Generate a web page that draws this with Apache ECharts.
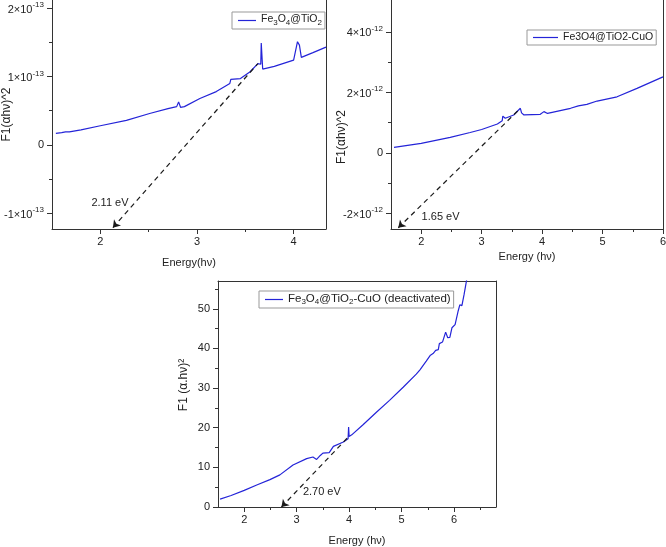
<!DOCTYPE html>
<html><head><meta charset="utf-8">
<script src="https://cdn.jsdelivr.net/npm/echarts@6/dist/echarts.min.js"></script>
<style>html,body{margin:0;padding:0;background:#fff}#c{width:666px;height:547px}</style>
</head><body><div id="c"></div>
<script>
// ---------- Panel 1: Fe3O4@TiO2 (values in units of 1e-13) ----------
const p1Name = 'Fe3O4@TiO2';
const p1Energy = [1.54,1.60,1.64,1.66,1.68,1.80,2.00,2.27,2.51,2.70,2.79,2.81,2.83,2.85,2.87,3.03,3.20,3.34,3.35,3.45,3.55,3.63,3.66,3.665,3.68,3.80,4.00,4.02,4.04,4.06,4.08,4.20,4.335];
const p1Value  = [0.17,0.18,0.19,0.17,0.19,0.22,0.28,0.36,0.46,0.53,0.56,0.63,0.55,0.53,0.56,0.68,0.78,0.90,0.96,0.97,1.07,1.19,1.18,1.49,1.11,1.15,1.24,1.25,1.51,1.46,1.28,1.35,1.43];
const p1XRange = [1.5, 4.335];
const p1YRange = [-1.23, 2.12];
const p1XTicks = [2, 3, 4];
const p1XMinor = [2.5, 3.5];
const p1YTicks = [-1, 0, 1, 2];
const p1YMinor = [-0.5, 0.5, 1.5];
const p1Tangent = [[2.13, -1.21], [3.63, 1.19]];
const p1Gap = {text: '2.11 eV', at: [2.10, -0.85]};

// ---------- Panel 2: Fe3O4@TiO2-CuO (values in units of 1e-12) ----------
const p2Name = 'Fe3O4@TiO2-CuO';
const p2Energy = [1.55,2.00,2.48,2.81,3.00,3.26,3.34,3.35,3.39,3.53,3.64,3.66,3.70,3.97,4.03,4.09,4.47,4.60,4.74,4.75,4.77,4.91,5.24,5.57,6.00];
const p2Value  = [0.18,0.31,0.51,0.67,0.77,0.95,1.06,1.21,1.14,1.25,1.47,1.32,1.25,1.27,1.36,1.30,1.47,1.55,1.60,1.64,1.60,1.71,1.85,2.13,2.51];
const p2XRange = [1.5, 6];
const p2YRange = [-2.52, 5.05];
const p2XTicks = [2, 3, 4, 5, 6];
const p2XMinor = [2.5, 3.5, 4.5, 5.5];
const p2YTicks = [-2, 0, 2, 4];
const p2YMinor = [-1, 1, 3];
const p2Tangent = [[1.62, -2.48], [3.61, 1.41]];
const p2Gap = {text: '1.65 eV', at: [2.32, -2.13]};

// ---------- Panel 3: Fe3O4@TiO2-CuO (deactivated) ----------
const p3Name = 'Fe3O4@TiO2-CuO (deactivated)';
const p3Energy = [1.54,1.75,2.00,2.25,2.49,2.68,2.93,3.19,3.31,3.38,3.45,3.50,3.62,3.65,3.70,3.89,3.98,3.99,4.00,4.05,4.27,4.52,4.77,5.03,5.28,5.35,5.47,5.55,5.60,5.65,5.70,5.72,5.78,5.84,5.88,5.92,5.96,6.02,6.08,6.11,6.15,6.19,6.25];
const p3Value  = [2.0,2.9,4.2,5.6,6.9,8.1,10.6,12.2,12.6,12.0,13.0,13.6,13.7,13.9,15.3,16.4,17.2,20.2,17.8,18.2,20.8,23.9,26.9,30.2,33.5,34.6,36.8,38.3,38.7,39.5,39.7,41.2,41.6,44.1,42.7,42.8,45.2,46.0,49.5,51.0,50.8,53.5,58.0];
const p3XRange = [1.5, 6.8];
const p3YRange = [0, 57];
const p3XTicks = [2, 3, 4, 5, 6];
const p3XMinor = [2.5, 3.5, 4.5, 5.5, 6.5];
const p3YTicks = [0, 10, 20, 30, 40, 50];
const p3YMinor = [5, 15, 25, 35, 45, 55];
const p3Tangent = [[2.71, 0], [3.98, 17.6]];
const p3Gap = {text: '2.70 eV', at: [3.48, 3.8]};

// ---------- styling ----------
const FONT = 'Liberation Sans, Arial, sans-serif';
const LINE = '#2424d8';
const AX = '#333';
const TXT = '#222';

const zip = (a, b) => a.map((v, i) => [v, b[i]]);
const supRich = {
  b: {fontSize: 11, fontFamily: FONT, color: TXT, lineHeight: 14, verticalAlign: 'bottom'},
  s: {fontSize: 8, fontFamily: FONT, color: TXT, lineHeight: 6, verticalAlign: 'top'}
};
const subRich = fs => ({
  n: {fontSize: fs, fontFamily: FONT, color: TXT, lineHeight: 13, verticalAlign: 'top'},
  s: {fontSize: 8, fontFamily: FONT, color: TXT, lineHeight: 8, verticalAlign: 'bottom'}
});
const subFmt = name => name.replace(/([A-Za-z@ ()\-]+)|(\d+)/g, (m, t, d) => t ? '{n|' + t + '}' : '{s|' + d + '}');
const sciFmt = exp => v => v === 0 ? '0' : '{b|' + v + '×10}{s|-' + exp + '}';

function mainX(grid, range, ticks, name, gap) {
  return {type: 'value', gridIndex: grid, min: range[0], max: range[1], position: 'bottom',
    name: name, nameLocation: 'middle', nameGap: gap, nameMoveOverlap: false,
    nameTextStyle: {fontFamily: FONT, fontSize: 11, color: TXT},
    axisLine: {show: true, onZero: false, lineStyle: {color: AX, width: 1}},
    axisTick: {show: true, inside: false, length: 5, customValues: ticks, lineStyle: {color: AX}},
    axisLabel: {show: true, customValues: ticks, margin: 7, fontFamily: FONT, fontSize: 11, color: TXT},
    splitLine: {show: false}};
}
function minorAxis(type, grid, range, ticks, pos) {
  return {type: 'value', gridIndex: grid, min: range[0], max: range[1], position: pos,
    axisLine: {show: false, onZero: false},
    axisTick: {show: true, inside: false, length: 3, customValues: ticks, lineStyle: {color: AX}},
    axisLabel: {show: false}, splitLine: {show: false}};
}
function borderAxis(grid, range, pos) {
  return {type: 'value', gridIndex: grid, min: range[0], max: range[1], position: pos,
    axisLine: {show: true, onZero: false, lineStyle: {color: AX, width: 1}},
    axisTick: {show: false}, axisLabel: {show: false}, splitLine: {show: false}};
}
function mainY(grid, range, ticks, fmt, name, gap, padding) {
  return {type: 'value', gridIndex: grid, min: range[0], max: range[1], position: 'left',
    name: name, nameLocation: 'middle', nameGap: gap, nameMoveOverlap: false,
    nameTextStyle: {fontFamily: FONT, fontSize: 12, color: TXT, padding: padding},
    axisLine: {show: true, onZero: false, lineStyle: {color: AX, width: 1}},
    axisTick: {show: true, inside: false, length: 5, customValues: ticks, lineStyle: {color: AX}},
    axisLabel: {show: true, customValues: ticks, margin: 8, fontFamily: FONT, fontSize: 11, color: TXT,
      formatter: fmt, rich: supRich},
    splitLine: {show: false}};
}
function curve(name, xi, yi, data, tangent, gap) {
  return {type: 'line', name: name, xAxisIndex: xi, yAxisIndex: yi, data: data,
    showSymbol: false, symbol: 'none', clip: true, silent: true,
    color: LINE, lineStyle: {color: LINE, width: 1.2},
    markLine: {silent: true, symbol: ['arrow', 'none'], symbolSize: 7, animation: false,
      lineStyle: {color: '#1a1a1a', type: [5, 4], width: 1.2},
      label: {show: false},
      data: [[{coord: tangent[0]}, {coord: tangent[1]}]]},
    markPoint: {silent: true, symbol: 'circle', symbolSize: 0, animation: false,
      label: {show: true, position: 'inside', formatter: gap.text, fontFamily: FONT, fontSize: 11, color: TXT},
      data: [{coord: gap.at, value: 0}]}
  };
}
function legendFor(name, left, top, itemWidth, rich, fs) {
  return {data: [name], left: left, top: top, orient: 'horizontal',
    backgroundColor: '#fff', borderColor: '#999', borderWidth: 1, borderRadius: 0,
    padding: [2, 3, 2, 6], itemWidth: itemWidth, itemHeight: 1.2, itemGap: 0,
    icon: 'rect', selectedMode: false,
    formatter: rich ? subFmt : (n => n),
    textStyle: {fontFamily: FONT, fontSize: fs, color: TXT, rich: rich ? subRich(fs) : undefined}};
}

const chart = echarts.init(document.getElementById('c'), null, {renderer: 'canvas'});
const gridBase = {containLabel: false, outerBoundsMode: 'none'};
chart.setOption({
  animation: false,
  backgroundColor: '#fff',
  grid: [
    Object.assign({left: 52, top: 0, width: 274, height: 229}, gridBase),
    Object.assign({left: 391, top: 0, width: 272, height: 229}, gridBase),
    Object.assign({left: 218, top: 281, width: 278, height: 226}, gridBase)
  ],
  legend: [
    legendFor(p1Name, 232, 12, 18, true, 10.5),
    legendFor(p2Name, 527, 30, 25, false, 10.5),
    legendFor(p3Name, 259, 291, 18, true, 11.5)
  ],
  xAxis: [
    mainX(0, p1XRange, p1XTicks, 'Energy(hν)', 28),
    minorAxis('x', 0, p1XRange, p1XMinor, 'bottom'),
    mainX(1, p2XRange, p2XTicks, 'Energy (hν)', 22),
    minorAxis('x', 1, p2XRange, p2XMinor, 'bottom'),
    mainX(2, p3XRange, p3XTicks, 'Energy (hν)', 28),
    minorAxis('x', 2, p3XRange, p3XMinor, 'bottom'),
    borderAxis(2, p3XRange, 'top')
  ],
  yAxis: [
    mainY(0, p1YRange, p1YTicks, sciFmt(13), 'F1(αhν)^2', 39, [0, 0, 0, 0]),
    minorAxis('y', 0, p1YRange, p1YMinor, 'left'),
    borderAxis(0, p1YRange, 'right'),
    mainY(1, p2YRange, p2YTicks, sciFmt(12), 'F1(αhν)^2', 43, [0, 45, 0, 0]),
    minorAxis('y', 1, p2YRange, p2YMinor, 'left'),
    borderAxis(1, p2YRange, 'right'),
    mainY(2, p3YRange, p3YTicks, v => String(v), 'F1 (α.hν)²', 28, [0, 0, 0, 18]),
    minorAxis('y', 2, p3YRange, p3YMinor, 'left'),
    borderAxis(2, p3YRange, 'right')
  ],
  series: [
    curve(p1Name, 0, 0, zip(p1Energy, p1Value), p1Tangent, p1Gap),
    curve(p2Name, 2, 3, zip(p2Energy, p2Value), p2Tangent, p2Gap),
    curve(p3Name, 4, 6, zip(p3Energy, p3Value), p3Tangent, p3Gap)
  ]
});
</script>
</body></html>
